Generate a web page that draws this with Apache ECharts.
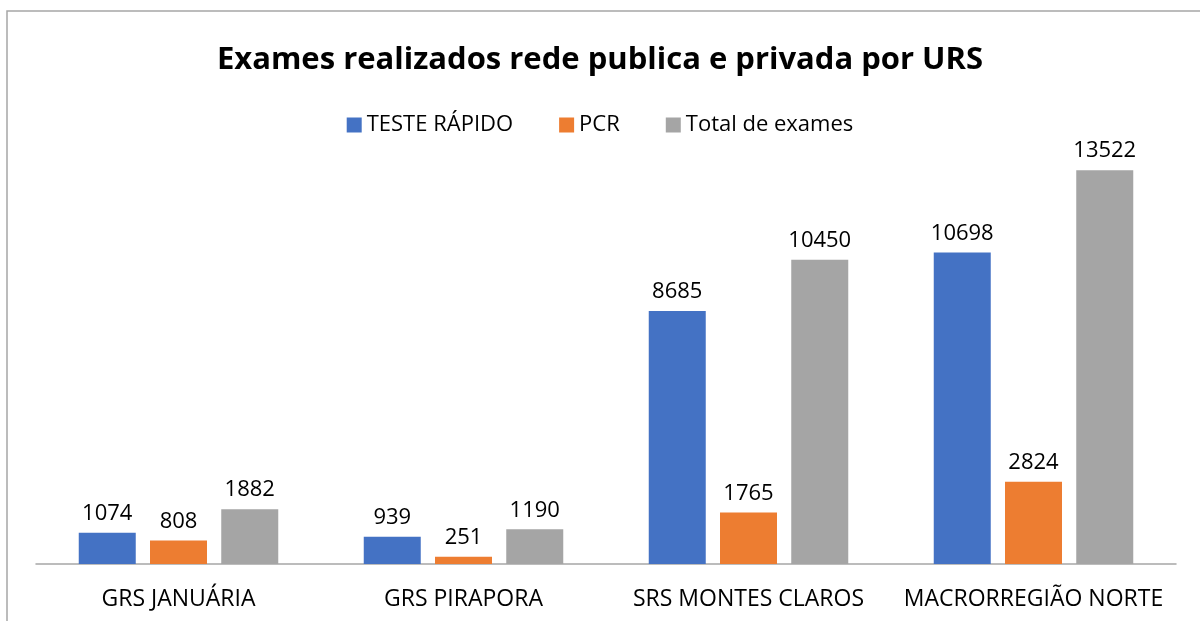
<!DOCTYPE html>
<html>
<head>
<meta charset="utf-8">
<script src="https://cdn.jsdelivr.net/npm/echarts@6/dist/echarts.min.js"></script>
<style>
  html, body { margin: 0; padding: 0; background: #fff; }
  #chart { width: 1200px; height: 621px; }
</style>
</head>
<body>
<div id="chart"></div>
<script>
const categories = ['GRS JANUÁRIA', 'GRS PIRAPORA', 'SRS MONTES CLAROS', 'MACRORREGIÃO NORTE'];
const testeRapido = [1074, 939, 8685, 10698];
const pcr = [808, 251, 1765, 2824];
const totalExames = [1882, 1190, 10450, 13522];

const chart = echarts.init(document.getElementById('chart'));
const font = '"Open Sans", "Noto Sans", sans-serif';

const labelStyle = {
  show: true,
  position: 'top',
  distance: 8,
  color: '#000',
  fontSize: 22,
  fontFamily: font
};

const option = {
  animation: false,
  title: {
    text: 'Exames realizados rede publica e privada por URS',
    left: 'center',
    top: 40,
    textStyle: {
      fontFamily: font,
      fontWeight: 'bold',
      fontSize: 31,
      color: '#000'
    }
  },
  legend: {
    top: 109,
    left: 'center',
    icon: 'rect',
    itemWidth: 15,
    itemHeight: 15,
    itemGap: 46,
    textStyle: { fontFamily: font, fontSize: 22, color: '#000' },
    data: ['TESTE RÁPIDO', 'PCR', 'Total de exames']
  },
  graphic: [{
    type: 'rect',
    shape: { x: 7, y: 11, width: 1400, height: 800 },
    style: { fill: 'none', stroke: '#a6a6a6', lineWidth: 1.5 }
  }],
  grid: { left: 36, right: 24, top: 98, bottom: 57 },
  xAxis: {
    type: 'category',
    data: categories,
    axisLine: { lineStyle: { color: '#a6a6a6', width: 1.5 } },
    axisTick: { show: false },
    axisLabel: { interval: 0, fontFamily: font, fontSize: 23, color: '#000', margin: 24 }
  },
  yAxis: {
    type: 'value',
    min: 0,
    max: 16000,
    show: false,
    splitLine: { show: false }
  },
  series: [
    { name: 'TESTE RÁPIDO', type: 'bar', data: testeRapido, barWidth: 57, barGap: '25%',
      itemStyle: { color: '#4472c4' }, label: labelStyle },
    { name: 'PCR', type: 'bar', data: pcr, barWidth: 57, barGap: '25%',
      itemStyle: { color: '#ed7d31' }, label: labelStyle },
    { name: 'Total de exames', type: 'bar', data: totalExames, barWidth: 57, barGap: '25%',
      itemStyle: { color: '#a5a5a5' }, label: labelStyle }
  ]
};

chart.setOption(option);
</script>
</body>
</html>
